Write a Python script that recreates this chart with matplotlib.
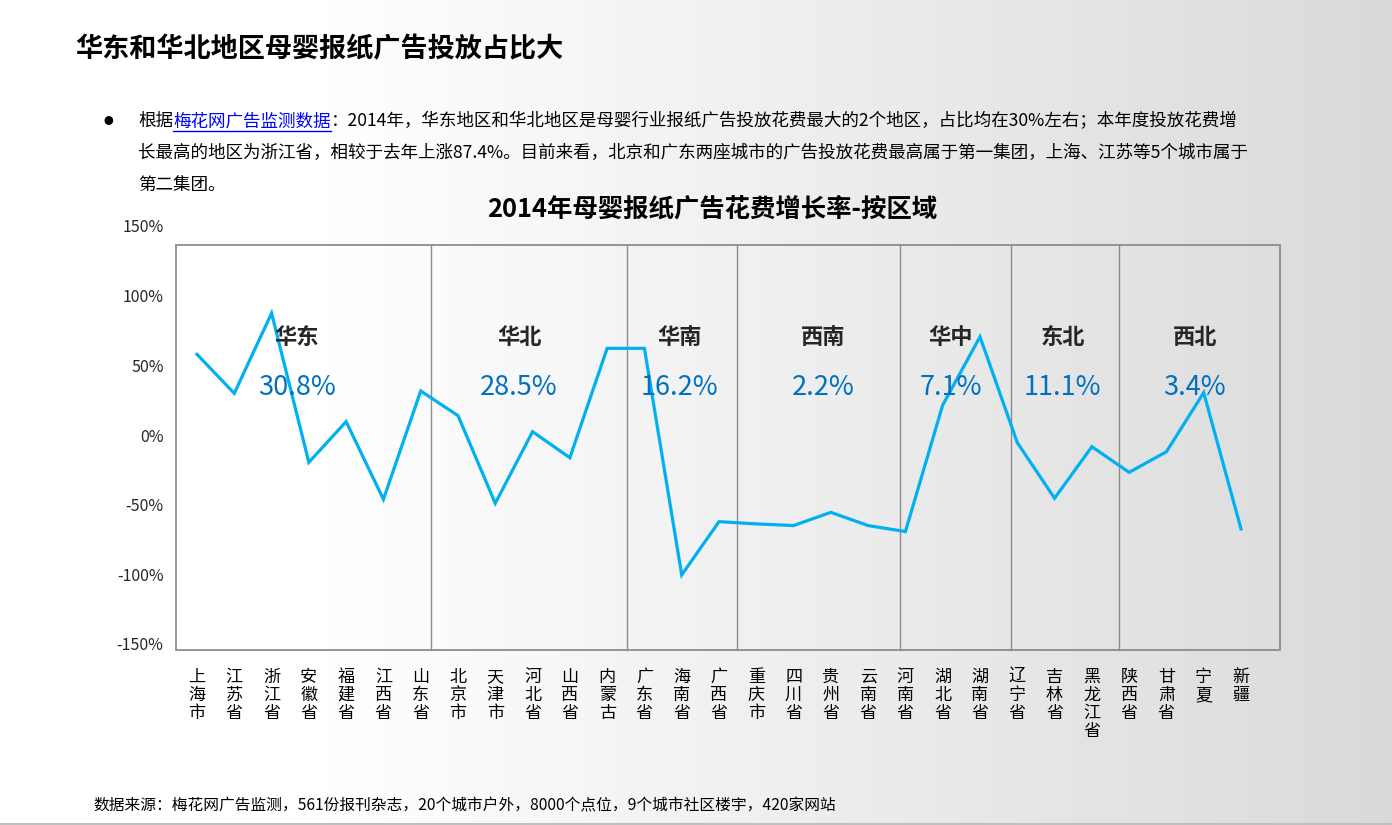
import numpy as np
import matplotlib
matplotlib.use("Agg")
import matplotlib.pyplot as plt
from matplotlib.patches import Rectangle
from matplotlib.lines import Line2D

plt.rcParams['font.family'] = ['Noto Sans CJK SC', 'DejaVu Sans']

# ---------------- data ----------------
categories = ['上海市', '江苏省', '浙江省', '安徽省', '福建省', '江西省', '山东省',
              '北京市', '天津市', '河北省', '山西省', '内蒙古',
              '广东省', '海南省', '广西省',
              '重庆市', '四川省', '贵州省', '云南省',
              '河南省', '湖北省', '湖南省',
              '辽宁省', '吉林省', '黑龙江省',
              '陕西省', '甘肃省', '宁夏', '新疆']
growth = [57.9, 29.9, 87.4, -19.6, 9.6, -46.2, 31.6,
          13.9, -49.0, 2.4, -16.3, 62.2,
          62.2, -100.4, -62.2,
          -63.8, -65.0, -55.5, -65.0,
          -69.3, 21.5, 70.5,
          -5.5, -45.4, -8.4,
          -26.8, -12.0, 30.4, -67.4]
regions = ['华东', '华北', '华南', '西南', '华中', '东北', '西北']
region_share = [30.8, 28.5, 16.2, 2.2, 7.1, 11.1, 3.4]
y_ticks = [-150, -100, -50, 0, 50, 100, 150]

page_title = '华东和华北地区母婴报纸广告投放占比大'
chart_title = '2014年母婴报纸广告花费增长率-按区域'
body_prefix = '根据'
body_link = '梅花网广告监测数据'
body_line1 = '：2014年，华东地区和华北地区是母婴行业报纸广告投放花费最大的2个地区，占比均在30%左右；本年度投放花费增'
body_line2 = '长最高的地区为浙江省，相较于去年上涨87.4%。目前来看，北京和广东两座城市的广告投放花费最高属于第一集团，上海、江苏等5个城市属于'
body_line3 = '第二集团。'
footer = '数据来源：梅花网广告监测，561份报刊杂志，20个城市户外，8000个点位，9个城市社区楼宇，420家网站'

# ---------------- layout helpers ----------------
W, H = 1392, 825
fig = plt.figure(figsize=(W / 100, H / 100), dpi=100)


def fx(px):
    return px / W


def fy(py):
    return 1 - py / H


# background gradient
bg = fig.add_axes([0, 0, 1, 1], zorder=-10)
xs = np.arange(W)
vals = np.clip(255 - 38 * (xs - 300) / (W - 300), 217, 255) / 255.0
grad = np.tile(vals, (10, 1))
bg.imshow(grad, cmap='gray', vmin=0, vmax=1, aspect='auto', extent=[0, 1, 0, 1])
bg.set_xlim(0, 1)
bg.set_ylim(0, 1)
bg.axis('off')
bg.plot([0, 1], [fy(823.5), fy(823.5)], color='#bfbfbf', lw=1.5, transform=bg.transAxes)

# main axes: y range -150..150 maps to pixel 644..226
ax_l, ax_r, ax_t, ax_b = 176, 1280, 226, 644
ax = fig.add_axes([fx(ax_l), fy(ax_b), fx(ax_r - ax_l), (ax_b - ax_t) / H])
unit = (1241 - 197) / 28.0
x_lo = -(197 - ax_l) / unit
x_hi = 28 + (ax_r - 1241) / unit
ax.set_xlim(x_lo, x_hi)
ax.set_ylim(-150, 150)
ax.patch.set_visible(False)
for s in ax.spines.values():
    s.set_visible(False)

pxy = (ax_b - ax_t) / 300.0
frame_bot = -150 - (650 - ax_b) / pxy
frame_top = 150 - (245 - ax_t) / pxy
ax.add_patch(Rectangle((x_lo, frame_bot), x_hi - x_lo, frame_top - frame_bot,
                       fill=False, edgecolor='#8c8c8c', lw=1.3, clip_on=False, zorder=1))

dividers = [6.276, 11.53, 14.48, 18.85, 21.83, 24.73]
for d in dividers:
    ax.plot([d, d], [frame_bot, frame_top], color='#8c8c8c', lw=1.0, clip_on=False, zorder=1)

x = np.arange(len(categories))
ax.plot(x, growth, color='#00B0F0', lw=2.3, zorder=3, solid_joinstyle='miter', clip_on=False)

region_centers = [2.68, 8.64, 12.95, 16.79, 20.22, 23.22, 26.76]
for cx, name, share in zip(region_centers, regions, region_share):
    ax.text(cx, 70, name, ha='center', va='center', fontsize=16, fontweight='bold',
            color='#262626', zorder=4)
    ax.text(cx, 34.0, f'{share}%', ha='center', va='center', fontsize=19.5,
            color='#0070C0', zorder=4)

ax.set_yticks(y_ticks)
ax.set_yticklabels([f'{v}%' for v in y_ticks], fontsize=11.5, color='#262626')
ax.set_xticks(x)
ax.set_xticklabels(['\n'.join(c) for c in categories], fontsize=12.3, color='#000000',
                   linespacing=1.02, va='top')
ax.tick_params(axis='y', length=0, pad=9)
ax.tick_params(axis='x', length=0, pad=17)

# titles
fig.text(fx(75), fy(49), page_title, fontsize=19.5, fontweight='bold', color='#000000',
         ha='left', va='center')
fig.text(fx(712), fy(209), chart_title, fontsize=18.3, fontweight='bold', color='#000000',
         ha='center', va='center')

# bullet text
fig.text(fx(108), fy(121), '●', fontsize=7, color='#000000', ha='center', va='center')
renderer = fig.canvas.get_renderer()
body_fs = 12.65
t1 = fig.text(fx(138), fy(121), body_prefix, fontsize=body_fs, color='#000000',
              ha='left', va='center')
bb = t1.get_window_extent(renderer)
t2 = fig.text(bb.x1 / W, fy(121), body_link, fontsize=body_fs, color='#0000FF',
              ha='left', va='center')
bb2 = t2.get_window_extent(renderer)
fig.add_artist(Line2D([bb2.x0 / W, bb2.x1 / W], [fy(131), fy(131)], color='#0000FF', lw=1.0))
fig.text(bb2.x1 / W, fy(121), body_line1, fontsize=body_fs, color='#000000',
         ha='left', va='center')
fig.text(fx(138), fy(153), body_line2, fontsize=body_fs, color='#000000', ha='left', va='center')
fig.text(fx(138), fy(185), body_line3, fontsize=body_fs, color='#000000', ha='left', va='center')

fig.text(fx(93), fy(806), footer, fontsize=11.3, color='#000000', ha='left', va='center')

fig.savefig('out.png', dpi=100)
